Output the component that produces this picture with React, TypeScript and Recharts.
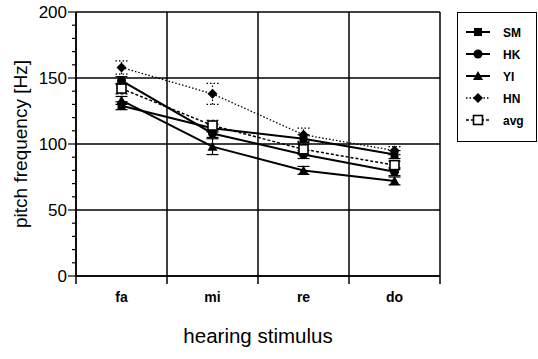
import { LineChart, Line, XAxis, YAxis, CartesianGrid, Legend, ErrorBar } from 'recharts'

// hearing stimulus categories, placed at band centres 0.5 .. 3.5
const STIMULI = ['fa', 'mi', 're', 'do']
const STIMULUS_POS = [0.5, 1.5, 2.5, 3.5]

// pitch frequency [Hz] per speaker
const SM = [129, 112, 104, 92]
const HK = [148, 108, 92, 79]
const YI = [133, 98, 80, 72]
const HN = [158, 138, 107, 95]
const AVG = [142, 114, 96, 84]

// error bar half-widths
const SM_ERR = [3, 3, 3, 3]
const HK_ERR = [3, 3, 3, 3]
const YI_ERR = [3, 6, 3, 3]
const HN_ERR = [5, 8, 5, 3]
const AVG_ERR = [4, 4, 4, 3]

const X_TICKS = [0, 0.5, 1, 1.5, 2, 2.5, 3, 3.5, 4]
const Y_TICKS = [0, 10, 20, 30, 40, 50, 60, 70, 80, 90, 100, 110, 120, 130, 140, 150, 160, 170, 180, 190, 200]

const FONT = '"Liberation Sans", Arial, Helvetica, sans-serif'
const INK = '#000'

const data = STIMULI.map((name, i) => ({
  name,
  x: STIMULUS_POS[i],
  SM: SM[i],
  HK: HK[i],
  YI: YI[i],
  HN: HN[i],
  avg: AVG[i],
  smErr: SM_ERR[i],
  hkErr: HK_ERR[i],
  yiErr: YI_ERR[i],
  hnErr: HN_ERR[i],
  avgErr: AVG_ERR[i],
}))

type Shape = 'square' | 'circle' | 'triangle' | 'diamond' | 'open'

const SERIES: { key: string; err: string; shape: Shape; dash?: string; width: number }[] = [
  { key: 'SM', err: 'smErr', shape: 'square', width: 2 },
  { key: 'HK', err: 'hkErr', shape: 'circle', width: 2 },
  { key: 'YI', err: 'yiErr', shape: 'triangle', width: 2 },
  { key: 'HN', err: 'hnErr', shape: 'diamond', dash: '1.5 2', width: 1.3 },
  { key: 'avg', err: 'avgErr', shape: 'open', dash: '3 2', width: 1.5 },
]

function Marker({ shape, cx, cy }: { shape: Shape; cx: number; cy: number }) {
  switch (shape) {
    case 'square':
      return <rect x={cx - 4} y={cy - 4} width={8} height={8} fill={INK} />
    case 'circle':
      return <circle cx={cx} cy={cy} r={4.5} fill={INK} />
    case 'triangle':
      return <path d={`M${cx},${cy - 5} L${cx + 5},${cy + 4} L${cx - 5},${cy + 4} Z`} fill={INK} />
    case 'diamond':
      return <path d={`M${cx},${cy - 5} L${cx + 5},${cy} L${cx},${cy + 5} L${cx - 5},${cy} Z`} fill={INK} />
    default:
      return <rect x={cx - 4.5} y={cy - 4.5} width={9} height={9} fill="#fff" stroke={INK} strokeWidth={1.6} />
  }
}

const dotFor = (shape: Shape) => (props: any) => (
  <g key={`${shape}-${props.index}`}>
    <Marker shape={shape} cx={props.cx} cy={props.cy} />
  </g>
)

// boundary ticks get a tick mark, centre ticks get the stimulus name
const XTick = (props: any) => {
  const { x, y, payload } = props
  const v = payload.value as number
  if (Number.isInteger(v)) {
    return <line x1={x} x2={x} y1={y} y2={y + 8} stroke={INK} strokeWidth={1.5} />
  }
  return (
    <text x={x} y={y + 26} textAnchor="middle" fontFamily={FONT} fontSize={14} fontWeight="bold" fill={INK}>
      {STIMULI[Math.floor(v)]}
    </text>
  )
}

// major ticks every 50 with a label, minor ticks every 10
const YTick = (props: any) => {
  const { x, y, payload } = props
  const v = payload.value as number
  const major = v % 50 === 0
  return (
    <g>
      <line x1={x - (major ? 8 : 4)} x2={x} y1={y} y2={y} stroke={INK} strokeWidth={1.2} />
      {major && (
        <text x={x - 9} y={y} dy={6} textAnchor="end" fontFamily={FONT} fontSize={17} fill={INK}>
          {v}
        </text>
      )}
    </g>
  )
}

const LegendBox = () => (
  <div style={{ border: `1.5px solid ${INK}`, width: 80, height: 130, boxSizing: 'border-box', background: '#fff' }}>
    <svg width={77} height={127}>
      {SERIES.map((s, i) => {
        const cy = 19 + i * 22
        return (
          <g key={s.key}>
            <line x1={8} x2={32} y1={cy} y2={cy} stroke={INK} strokeWidth={s.width} strokeDasharray={s.dash} />
            <Marker shape={s.shape} cx={20} cy={cy} />
            <text x={45} y={cy + 4.5} fontFamily={FONT} fontSize={12} fontWeight="bold" fill={INK}>
              {s.key}
            </text>
          </g>
        )
      })}
    </svg>
  </div>
)

export default function App() {
  return (
    <div style={{ position: 'absolute', left: 0, top: 0, width: 538, height: 359, background: '#fff' }}>
      <LineChart width={538} height={359} data={data} margin={{ top: 12, right: 98, bottom: 0, left: 0 }}>
        <CartesianGrid
          stroke={INK}
          strokeWidth={1.5}
          horizontalValues={[0, 50, 100, 150, 200]}
          verticalValues={[0, 1, 2, 3, 4]}
        />
        <XAxis
          dataKey="x"
          type="number"
          domain={[0, 4]}
          ticks={X_TICKS}
          interval={0}
          height={83}
          tickSize={0}
          tickMargin={0}
          tickLine={false}
          tick={XTick}
          axisLine={{ stroke: INK, strokeWidth: 1.5 }}
          label={{
            value: 'hearing stimulus',
            position: 'insideBottom',
            offset: 16,
            style: { fontFamily: FONT, fontSize: 20.5, fill: INK },
          }}
        />
        <YAxis
          type="number"
          domain={[0, 200]}
          ticks={Y_TICKS}
          interval={0}
          width={76}
          tickSize={0}
          tickMargin={0}
          tickLine={false}
          tick={YTick}
          axisLine={{ stroke: INK, strokeWidth: 1.5 }}
          label={{
            value: 'pitch frequency [Hz]',
            angle: -90,
            position: 'insideLeft',
            offset: 20,
            style: { textAnchor: 'middle', fontFamily: FONT, fontSize: 19, fill: INK },
          }}
        />
        <Legend
          layout="vertical"
          align="center"
          verticalAlign="middle"
          content={LegendBox}
          wrapperStyle={{ left: 457, top: 12, width: 80, height: 130 }}
        />
        {SERIES.map((s) => (
          <Line
            key={s.key}
            dataKey={s.key}
            type="linear"
            stroke={INK}
            strokeWidth={s.width}
            strokeDasharray={s.dash}
            dot={dotFor(s.shape)}
            activeDot={false}
            isAnimationActive={false}
          >
            <ErrorBar dataKey={s.err} direction="y" width={6} stroke={INK} strokeWidth={1.2} strokeDasharray={s.dash} />
          </Line>
        ))}
      </LineChart>
    </div>
  )
}
